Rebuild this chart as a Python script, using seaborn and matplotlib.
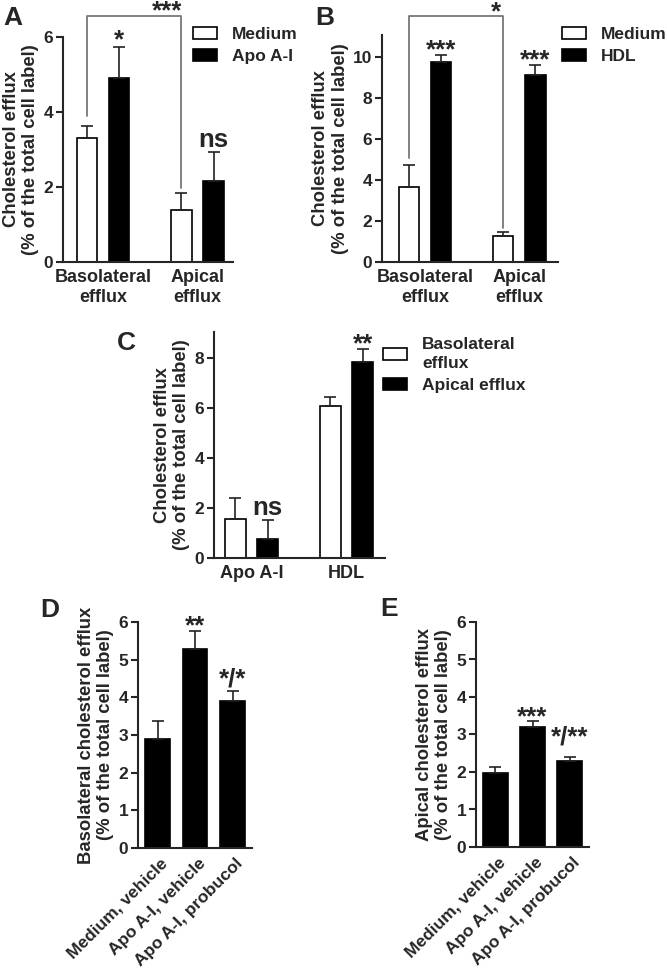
import numpy as np
import pandas as pd
import matplotlib
matplotlib.use("Agg")
import matplotlib.pyplot as plt
import seaborn as sns
from matplotlib.patches import Patch
from matplotlib.transforms import ScaledTranslation

# ---- data ----
# A: efflux to apo A-I
a_groups = ["Basolateral\nefflux", "Apical\nefflux"]
a_treats = ["Medium", "Apo A-I"]
a_medium = [3.31, 1.38]
a_medium_sem = [0.32, 0.46]
a_apoa = [4.91, 2.17]
a_apoa_sem = [0.81, 0.76]
a_marks = ["*", "ns"]

# B: efflux to HDL
b_groups = ["Basolateral\nefflux", "Apical\nefflux"]
b_treats = ["Medium", "HDL"]
b_medium = [3.64, 1.27]
b_medium_sem = [1.11, 0.18]
b_hdl = [9.77, 9.10]
b_hdl_sem = [0.31, 0.53]
b_marks = ["***", "***"]

# C: baso vs apical
c_groups = ["Apo A-I", "HDL"]
c_treats = ["Basolateral\nefflux", "Apical efflux"]
c_baso = [1.56, 6.09]
c_baso_sem = [0.84, 0.34]
c_apical = [0.75, 7.85]
c_apical_sem = [0.77, 0.51]
c_marks = ["ns", "**"]

# D / E: probucol
de_conditions = ["Medium, vehicle", "Apo A-I, vehicle", "Apo A-I, probucol"]
d_values = [2.89, 5.29, 3.89]
d_sem = [0.49, 0.47, 0.29]
d_marks = ["", "**", "*/*"]
e_values = [1.97, 3.21, 2.28]
e_sem = [0.16, 0.15, 0.13]
e_marks = ["", "***", "*/**"]

YLAB = "Cholesterol efflux\n(% of the total cell label)"

sns.set_style("ticks")
plt.rcParams["font.family"] = ["Liberation Sans", "DejaVu Sans"]
plt.rcParams["font.weight"] = "bold"
plt.rcParams["axes.labelweight"] = "bold"

W, H = 667, 972
fig = plt.figure(figsize=(W / 100, H / 100), dpi=100)


def make_ax(x0, x1, ytop, ybot):
    return fig.add_axes([x0 / W, 1 - ybot / H, (x1 - x0) / W, (ybot - ytop) / H])


def px_per_unit(ax):
    h = ax.get_position().height * H
    lo, hi = ax.get_ylim()
    return h / (hi - lo)


def style_ax(ax, ylim, xlim, yticks, ylabel):
    ax.set_ylim(*ylim)
    ax.set_xlim(*xlim)
    ax.set_yticks(yticks)
    ax.set_ylabel(ylabel, fontsize=13.3, labelpad=3)
    ax.set_xlabel("")
    sns.despine(ax=ax)
    for s in ["left", "bottom"]:
        ax.spines[s].set_linewidth(1.5)
    ax.tick_params(axis="y", length=5, width=1.5, labelsize=12.5, pad=2)
    ax.tick_params(axis="x", length=0, labelsize=13, pad=5)


def add_errors(ax, conts, sems):
    tops = []
    for cont, ss in zip(conts, sems):
        row = []
        for bar, s in zip(cont.patches, ss):
            xc = bar.get_x() + bar.get_width() / 2
            h = bar.get_height()
            ax.errorbar(xc, h, yerr=[[0], [s]], fmt="none", ecolor="#222222",
                        elinewidth=1.2, capsize=4.3, capthick=1.2, zorder=3)
            row.append((xc, h + s))
        tops.append(row)
    return tops


def add_marks(ax, points, marks, offs):
    # offs: baseline height above the error cap, in pixels
    ppu = px_per_unit(ax)
    for (xc, top), m, o in zip(points, marks, offs):
        if m:
            ax.text(xc, top + o / ppu, m, ha="center", va="baseline",
                    fontsize=18.5, fontweight="bold", clip_on=False)


def bracket(ax, p1, p2, top_px, star, star_x, pad1, pad2, star_off):
    ppu = px_per_unit(ax)
    ytop = ax.get_ylim()[1] + top_px / ppu
    ax.plot([p1[0], p1[0], p2[0], p2[0]],
            [p1[1] + pad1 / ppu, ytop, ytop, p2[1] + pad2 / ppu],
            color="#777777", lw=1.3, clip_on=False)
    ax.text(star_x, ytop + star_off / ppu, star, ha="center", va="baseline",
            fontsize=18.5, fontweight="bold", clip_on=False)


def grouped(ax, groups, treats, series, sems, colors):
    rows = [(g, t, series[j][i]) for j, t in enumerate(treats) for i, g in enumerate(groups)]
    df = pd.DataFrame(rows, columns=["group", "treat", "value"])
    sns.barplot(data=df, x="group", y="value", hue="treat", order=groups,
                hue_order=treats, palette=dict(zip(treats, colors)), width=0.68,
                gap=0.36, edgecolor="black", linewidth=1.2, errorbar=None,
                legend=False, ax=ax)
    return add_errors(ax, ax.containers, sems)


def legend(ax, treats, colors, x, y):
    handles = [Patch(facecolor=c, edgecolor="black", linewidth=1.2) for c in colors]
    leg = ax.legend(handles, treats, loc="upper left", bbox_to_anchor=(x / W, 1 - y / H),
                    bbox_transform=fig.transFigure, frameon=False, fontsize=12.5,
                    borderpad=0, borderaxespad=0, handlelength=1.4, handleheight=0.65,
                    handletextpad=0.85, labelspacing=0.4)
    for t in leg.get_texts():
        t.set_linespacing(1.35)


colors2 = ["white", "black"]

# ---- A ----
axA = make_ax(63, 233, 37, 262)
topsA = grouped(axA, a_groups, a_treats, [a_medium, a_apoa], [a_medium_sem, a_apoa_sem], colors2)
style_ax(axA, (0, 6), (-0.423, 1.376), [0, 2, 4, 6], YLAB)
add_marks(axA, topsA[1], a_marks, [0, 5])
bracket(axA, topsA[0][0], topsA[0][1], 246 - 225, "***", 0.677, 10, 5, -2)
legend(axA, a_treats, colors2, 193, 27)

# ---- B ----
axB = make_ax(382, 558, 35, 262)
topsB = grouped(axB, b_groups, b_treats, [b_medium, b_hdl], [b_medium_sem, b_hdl_sem], colors2)
style_ax(axB, (0, 11.07), (-0.456, 1.411), [0, 2, 4, 6, 8, 10], YLAB)
add_marks(axB, topsB[1], b_marks, [-2, -3])
bracket(axB, topsB[0][0], topsB[0][1], 246.3 - 227, "*", 0.753, 7, 4, -4)
legend(axB, b_treats, colors2, 562, 27)

# ---- C ----
axC = make_ax(214, 385, 332, 558)
topsC = grouped(axC, c_groups, c_treats, [c_baso, c_apical], [c_baso_sem, c_apical_sem], colors2)
style_ax(axC, (0, 9.04), (-0.395, 1.405), [0, 2, 4, 6, 8], YLAB)
add_marks(axC, topsC[1], c_marks, [5, -2])
legend(axC, c_treats, colors2, 383, 337)

# ---- D / E ----
for (x0, x1, ybot), vals, sems, marks, offs, lab in [
    ((138, 252, 848), d_values, d_sem, d_marks, [0, -2, 4],
     "Basolateral cholesterol efflux\n(% of the total cell label)"),
    ((476, 589, 847), e_values, e_sem, e_marks, [0, -3, 12],
     "Apical cholesterol efflux\n(% of the total cell label)"),
]:
    ax = make_ax(x0, x1, 622, ybot)
    df = pd.DataFrame({"cond": de_conditions, "value": vals})
    sns.barplot(data=df, x="cond", y="value", order=de_conditions, color="black",
                width=0.66, edgecolor="black", linewidth=1.2, errorbar=None, ax=ax)
    tops = add_errors(ax, ax.containers, [sems])
    style_ax(ax, (0, 6), (-0.52, 2.52), range(7), lab)
    ax.set_xticks(range(3))
    ax.set_xticklabels(de_conditions, rotation=45, ha="right", va="center",
                       rotation_mode="anchor", fontsize=12.5)
    ax.tick_params(axis="x", pad=9)
    shift = ScaledTranslation(8 / 100, 0, fig.dpi_scale_trans)
    for lbl in ax.get_xticklabels():
        lbl.set_transform(lbl.get_transform() + shift)
    add_marks(ax, tops[0], marks, offs)

for letter, x, y in [("A", 3, 25), ("B", 315, 25), ("C", 117, 350),
                     ("D", 40, 617), ("E", 380, 616)]:
    fig.text(x / W, 1 - y / H, letter, fontsize=19, fontweight="bold",
             ha="left", va="baseline")

fig.savefig("out.png", dpi=100)
